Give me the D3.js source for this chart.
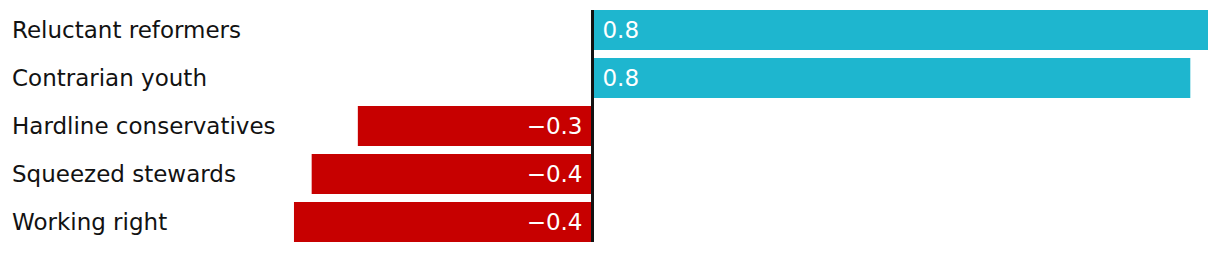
<!DOCTYPE html>
<html>
<head>
<meta charset="utf-8">
<script src="https://cdn.jsdelivr.net/npm/d3@7"></script>
<style>
  body { margin: 0; background: #fff; }
  svg { display: block; font-family: "DejaVu Sans", sans-serif; }
</style>
</head>
<body>
<svg id="chart"></svg>
<script>
const categories = ["Reluctant reformers", "Contrarian youth", "Hardline conservatives", "Squeezed stewards", "Working right"];
const values = [0.8, 0.777, -0.305, -0.365, -0.388];
const valueLabels = ["0.8", "0.8", "\u22120.3", "\u22120.4", "\u22120.4"];

const width = 1220, height = 254;
const margin = { top: 10, right: 12, bottom: 12, left: 12 };

const data = categories.map((c, i) => ({ cat: c, value: values[i], label: valueLabels[i] }));

const svg = d3.select("#chart")
    .attr("width", width)
    .attr("height", height);

// zero sits at ~592.5, 0.8 reaches 1208
const xScale = d3.scaleLinear()
    .domain([-0.4, 0.8])
    .range([592.5 - 0.4 * 769.4, 1208]);

// 40px bars, 8px gaps
const yScale = d3.scaleBand()
    .domain(categories)
    .range([margin.top, height - margin.bottom])
    .paddingInner(8 / 48)
    .paddingOuter(0);

svg.selectAll(".bar")
    .data(data)
    .join("rect")
    .attr("class", "bar")
    .attr("x", d => xScale(Math.min(0, d.value)))
    .attr("width", d => Math.abs(xScale(d.value) - xScale(0)))
    .attr("y", d => yScale(d.cat))
    .attr("height", yScale.bandwidth())
    .attr("fill", d => d.value >= 0 ? "#1eb6cf" : "#c70000");

svg.selectAll(".cat-label")
    .data(data)
    .join("text")
    .attr("class", "cat-label")
    .attr("x", margin.left)
    .attr("y", d => yScale(d.cat) + yScale.bandwidth() / 2)
    .attr("dy", "0.35em")
    .attr("font-size", 23)
    .attr("fill", "#121212")
    .text(d => d.cat);

svg.selectAll(".val-label")
    .data(data)
    .join("text")
    .attr("class", "val-label")
    .attr("x", d => d.value >= 0 ? xScale(0) + 10 : xScale(0) - 10)
    .attr("y", d => yScale(d.cat) + yScale.bandwidth() / 2)
    .attr("dy", "0.35em")
    .attr("text-anchor", d => d.value >= 0 ? "start" : "end")
    .attr("font-size", 23)
    .attr("fill", "#fff")
    .text(d => d.label);

svg.append("line")
    .attr("x1", xScale(0))
    .attr("x2", xScale(0))
    .attr("y1", yScale.range()[0])
    .attr("y2", yScale(categories[categories.length - 1]) + yScale.bandwidth())
    .attr("stroke", "#121212")
    .attr("stroke-width", 3);
</script>
</body>
</html>
